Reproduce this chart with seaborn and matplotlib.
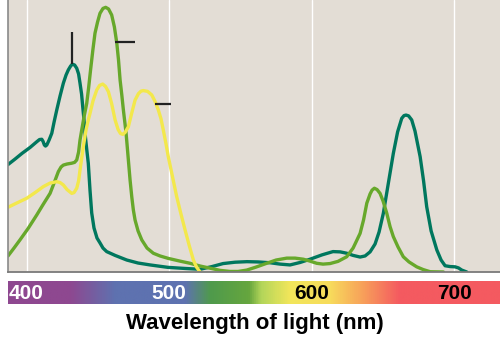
import numpy as np
import pandas as pd
import matplotlib
matplotlib.use("Agg")
import matplotlib.pyplot as plt
import matplotlib.transforms as mtransforms
import seaborn as sns
from matplotlib.colors import LinearSegmentedColormap

# ---- data (wavelength in nm, relative absorbance) ----
chl_a_nm = [387.0, 391.9, 396.8, 402.5, 407.2, 409.1, 410.7, 411.6, 412.5, 413.3, 414.2,
            415.8, 417.7, 419.3, 421.2, 423.5, 425.8, 427.7, 429.3, 430.9, 432.1, 433.7,
            435.2, 436.5, 437.5, 438.6, 439.4, 440.3, 441.0, 442.1, 443.3, 444.5, 445.7,
            447.3, 449.4, 451.5, 453.6, 456.2, 462.1, 470.3, 478.2, 486.6, 499.2, 511.2,
            521.7, 530.1, 537.8, 546.2, 554.6, 562.3, 570.8, 577.8, 584.8, 591.8, 598.8,
            607.2, 614.9, 619.9, 624.5, 629.0, 633.9, 637.4, 640.9, 644.4, 647.2, 650.2,
            653.5, 657.2, 660.2, 663.1, 664.7, 666.1, 667.9, 670.1, 672.4, 676.0, 678.4,
            680.6, 683.7, 687.7, 690.7, 693.5, 697.0, 700.5, 702.9, 705.2, 708.7]
chl_a_abs = [0.395, 0.415, 0.436, 0.458, 0.479, 0.487, 0.488, 0.480, 0.467, 0.463, 0.467,
             0.485, 0.510, 0.551, 0.596, 0.647, 0.694, 0.724, 0.743, 0.757, 0.764, 0.761,
             0.749, 0.728, 0.694, 0.654, 0.608, 0.559, 0.510, 0.456, 0.400, 0.301, 0.217,
             0.162, 0.125, 0.107, 0.088, 0.075, 0.061, 0.044, 0.033, 0.026, 0.017, 0.013,
             0.010, 0.020, 0.031, 0.036, 0.038, 0.037, 0.034, 0.029, 0.026, 0.035, 0.047,
             0.063, 0.075, 0.074, 0.069, 0.061, 0.055, 0.059, 0.074, 0.103, 0.147, 0.216,
             0.320, 0.436, 0.515, 0.565, 0.575, 0.577, 0.574, 0.559, 0.518, 0.424, 0.335,
             0.240, 0.151, 0.081, 0.044, 0.023, 0.020, 0.019, 0.015, 0.007, 0.0]

chl_b_nm = [387.0, 391.2, 395.4, 401.1, 407.2, 411.6, 416.5, 419.3, 422.3, 424.2, 425.8,
            428.4, 431.7, 433.7, 435.2, 436.5, 437.5, 438.7, 440.3, 442.2, 443.5, 444.9,
            446.5, 448.0, 449.8, 451.5, 453.6, 455.5, 457.5, 459.7, 461.6, 463.3, 464.5,
            465.6, 466.8, 467.9, 469.8, 471.4, 472.6, 473.8, 474.9, 476.1, 478.2, 480.8,
            484.5, 488.9, 493.6, 499.4, 507.6, 514.7, 521.7, 528.7, 535.7, 542.7, 548.3,
            554.4, 560.9, 568.4, 575.0, 582.5, 588.3, 594.1, 598.8, 603.5, 607.9, 612.8,
            618.4, 624.5, 629.0, 633.9, 636.3, 638.6, 640.9, 642.3, 643.9, 645.8, 647.9,
            650.0, 652.6, 654.9, 657.2, 660.5, 664.2, 668.2, 673.6, 678.1, 683.0, 692.3]
chl_b_abs = [0.059, 0.088, 0.118, 0.160, 0.210, 0.248, 0.289, 0.327, 0.369, 0.386, 0.393,
             0.397, 0.400, 0.403, 0.412, 0.441, 0.485, 0.522, 0.570, 0.620, 0.676, 0.743,
             0.816, 0.878, 0.919, 0.951, 0.969, 0.973, 0.967, 0.945, 0.901, 0.841, 0.779,
             0.706, 0.651, 0.596, 0.511, 0.412, 0.338, 0.276, 0.228, 0.191, 0.151, 0.118,
             0.088, 0.069, 0.059, 0.050, 0.040, 0.032, 0.022, 0.014, 0.006, 0.002, 0.002,
             0.007, 0.018, 0.032, 0.044, 0.051, 0.051, 0.047, 0.040, 0.032, 0.029, 0.031,
             0.039, 0.056, 0.088, 0.142, 0.191, 0.253, 0.287, 0.301, 0.308, 0.303, 0.289,
             0.261, 0.216, 0.167, 0.130, 0.092, 0.056, 0.037, 0.019, 0.009, 0.001, 0.0]

carot_nm = [387.0, 393.3, 400.1, 406.0, 411.8, 416.5, 421.2, 423.5, 425.8, 428.4, 431.7,
            433.3, 435.2, 436.5, 437.5, 438.7, 439.8, 441.7, 443.1, 444.5, 446.6, 449.2,
            451.2, 453.4, 455.4, 457.4, 459.6, 462.1, 464.2, 465.9, 467.5, 469.1, 471.4,
            473.6, 476.1, 478.5, 480.3, 481.9, 484.9, 487.8, 490.1, 492.4, 494.3, 495.9,
            497.8, 499.4, 502.4, 505.3, 508.3, 511.2, 514.0, 517.0, 519.2, 521.7]
carot_abs = [0.238, 0.254, 0.271, 0.292, 0.314, 0.327, 0.332, 0.329, 0.320, 0.303, 0.289,
             0.292, 0.308, 0.335, 0.375, 0.419, 0.461, 0.522, 0.555, 0.583, 0.629, 0.669,
             0.686, 0.691, 0.682, 0.663, 0.621, 0.559, 0.524, 0.509, 0.506, 0.513, 0.534,
             0.581, 0.632, 0.656, 0.665, 0.667, 0.664, 0.651, 0.627, 0.596, 0.563, 0.522,
             0.471, 0.424, 0.349, 0.277, 0.213, 0.154, 0.099, 0.044, 0.018, 0.0]

pigments = ["Chlorophyll a", "Chlorophyll b", "Carotenoids"]
pigment_colors = ["#00775e", "#67a82b", "#f3e84c"]

tick_values = [400, 500, 600, 700]
tick_label_colors = ["white", "white", "black", "black"]
x_label = "Wavelength of light (nm)"

# spectrum colours for the wavelength bar
spectrum_nm = [387, 430, 462, 511, 529, 556, 565, 585, 613, 634, 662, 732]
spectrum_colors = ["#8e4890", "#8e4890", "#5e72b0", "#5e72b0", "#4f9a4c", "#66a63e",
                   "#b4d65a", "#f2e65a", "#f7dc5c", "#f8a65a", "#f45a60", "#f45a60"]

# leader lines left from removed labels (nm, abs)
leader_a = ([432.1, 432.1], [0.764, 0.883])
leader_b = ([462.1, 476.1], [0.847, 0.847])
leader_c = ([490.1, 501.3], [0.618, 0.618])

# ---- build dataframe ----
df = pd.concat([
    pd.DataFrame({"nm": chl_a_nm, "abs": chl_a_abs, "pigment": pigments[0]}),
    pd.DataFrame({"nm": chl_b_nm, "abs": chl_b_abs, "pigment": pigments[1]}),
    pd.DataFrame({"nm": carot_nm, "abs": carot_abs, "pigment": pigments[2]}),
], ignore_index=True)

sns.set_style("white")
plt.rcParams['font.family'] = ['Liberation Sans', 'DejaVu Sans']

fig = plt.figure(figsize=(5, 3.38), dpi=100)
W, H = 500, 338
ax = fig.add_axes([8 / W, (H - 272) / H, 492 / W, 272 / H])
ax.set_facecolor("#e3ddd5")

for x in tick_values:
    ax.axvline(x, color="white", lw=1.0, zorder=0.5)

sns.lineplot(data=df, x="nm", y="abs", hue="pigment", hue_order=pigments,
             palette=dict(zip(pigments, pigment_colors)), estimator=None, sort=False,
             lw=2.4, legend=False, ax=ax, zorder=2)
for ln in ax.get_lines():
    ln.set_solid_joinstyle("round")
    ln.set_solid_capstyle("round")

for lx, ly in (leader_a, leader_b, leader_c):
    ax.plot(lx, ly, color="#222222", lw=1.6, solid_capstyle="butt", zorder=3)

ax.set_xlim(387, 732)
ax.set_ylim(0, 1)
ax.set_xticks(tick_values)
ax.set_xticklabels([])
ax.set_yticks([])
ax.set_xlabel("")
ax.set_ylabel("")
ax.tick_params(axis="x", direction="out", length=5, width=1, color="#777777")
for s in ("top", "right"):
    ax.spines[s].set_visible(False)
ax.spines["left"].set_color("#8a8a8a")
ax.spines["left"].set_linewidth(1.2)
ax.spines["bottom"].set_color("#7a7a7a")
ax.spines["bottom"].set_linewidth(1.3)

# ---- wavelength colour bar ----
cax = fig.add_axes([8 / W, (H - 304) / H, 492 / W, 22.7 / H])
lo, hi = spectrum_nm[0], spectrum_nm[-1]
cmap = LinearSegmentedColormap.from_list(
    "spec", [((v - lo) / (hi - lo), c) for v, c in zip(spectrum_nm, spectrum_colors)])
grad = np.linspace(lo, hi, 800).reshape(1, -1)
cax.imshow(grad, aspect="auto", cmap=cmap, extent=(lo, hi, 0, 1), vmin=lo, vmax=hi)
cax.set_xlim(387, 732)
cax.set_ylim(0, 1)
cax.axis("off")
trans = mtransforms.blended_transform_factory(cax.transData, cax.transAxes)
for v, c in zip(tick_values, tick_label_colors):
    cax.text(v, 0.47, str(v), transform=trans, ha="center", va="center",
             fontsize=15, fontweight="bold", color=c)

fig.text(255 / W, 1 - 324 / H, x_label, ha="center", va="center",
         fontsize=16, fontweight="bold", color="black")

fig.savefig("out.png", dpi=100)
